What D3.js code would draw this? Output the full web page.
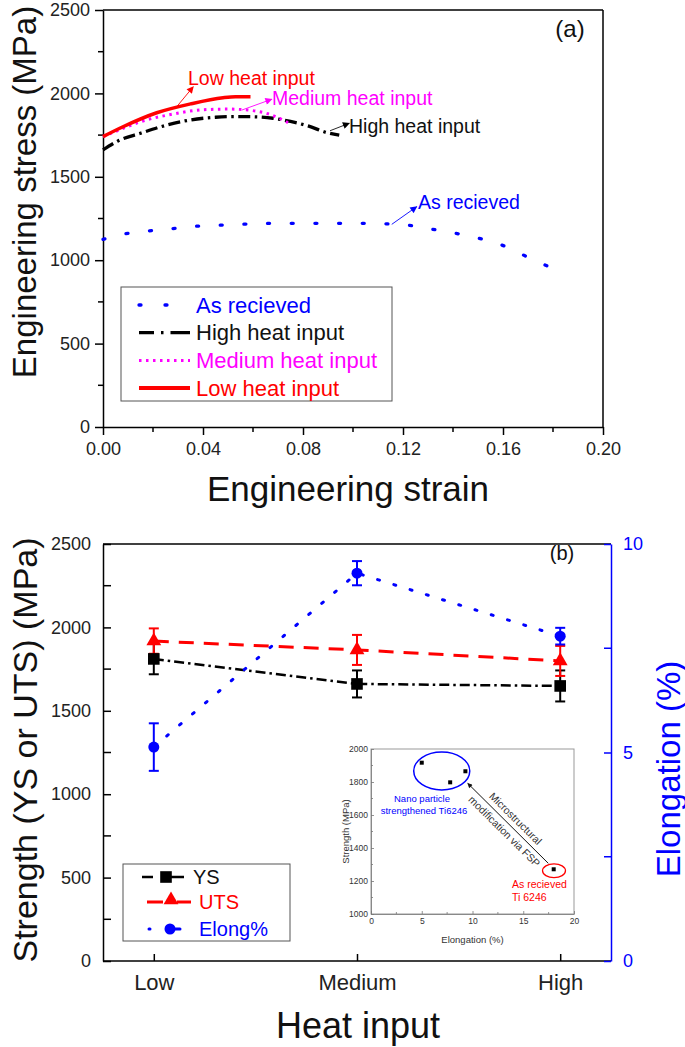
<!DOCTYPE html>
<html><head><meta charset="utf-8">
<script src="https://cdn.jsdelivr.net/npm/d3@7"></script>
<style>
html,body{margin:0;padding:0;background:#fff;}
svg{display:block;font-family:"Liberation Sans",Arial,Helvetica,sans-serif;}
</style></head><body>
<svg id="chart" width="685" height="1047"></svg>
<script>
// ===== Panel (a) data: engineering stress-strain curves =====
const strainAsReceived = [0, 0.0099, 0.0195, 0.029, 0.0384, 0.0481, 0.0577, 0.0672, 0.0768, 0.0864, 0.0959, 0.1055, 0.1148, 0.1244, 0.1335, 0.1425, 0.1521, 0.1605, 0.1684, 0.1777];
const stressAsReceived = [1125, 1161, 1177, 1191, 1205, 1211, 1217, 1221, 1221, 1221, 1221, 1221, 1217, 1205, 1181, 1157, 1125, 1085, 1029, 965];
const strainHigh = [0, 0.006, 0.015, 0.025, 0.035, 0.045, 0.052, 0.06, 0.068, 0.075, 0.082, 0.09, 0.0945];
const stressHigh = [1661, 1715, 1761, 1808, 1841, 1857, 1861, 1860, 1851, 1832, 1805, 1763, 1750];
const strainMedium = [0, 0.008, 0.015, 0.028, 0.04, 0.05, 0.058, 0.066, 0.074];
const stressMedium = [1741, 1790, 1830, 1876, 1902, 1906, 1900, 1878, 1825];
const strainLow = [0, 0.008, 0.0215, 0.035, 0.048, 0.053, 0.059];
const stressLow = [1741, 1800, 1884, 1937, 1974, 1980, 1980];
const strainTicks = [0, 0.04, 0.08, 0.12, 0.16, 0.20];
const stressTicks = [0, 500, 1000, 1500, 2000, 2500];
const legendA = ["As recieved", "High heat input", "Medium heat input", "Low heat input"];

// ===== Panel (b) data =====
const heatInput = ["Low", "Medium", "High"];
const ysValues = [1811, 1661, 1649];
const ysErrors = [92, 81, 93];
const utsValues = [1918, 1865, 1799];
const utsErrors = [76, 90, 90];
const elongValues = [5.13, 9.30, 7.79];
const elongErrors = [0.57, 0.29, 0.20];
const strengthTicks = [0, 500, 1000, 1500, 2000, 2500];
const elongTicks = [0, 5, 10];
const legendB = ["YS", "UTS", "Elong%"];

// ===== Inset data =====
const insetElong = [5.0, 7.8, 9.3, 18.0];
const insetStrength = [1917, 1798, 1865, 1271];
const insetXTicks = [0, 5, 10, 15, 20];
const insetYTicks = [1000, 1200, 1400, 1600, 1800, 2000];

const svg = d3.select("#chart");
const FONT = '"Liberation Sans",Arial,Helvetica,sans-serif';
const BLUE = "#0000ff", RED = "#ff0000", MAG = "#ff00ff", BLACK = "#000";

// arrow markers
const defs = svg.append("defs");
function marker(id, color, w, h) {
  defs.append("marker").attr("id", id).attr("viewBox", "0 0 10 10")
    .attr("refX", 9).attr("refY", 5).attr("markerUnits", "userSpaceOnUse")
    .attr("markerWidth", w).attr("markerHeight", h).attr("orient", "auto")
    .append("path").attr("d", "M0,0 L10,5 L0,10 z").attr("fill", color);
}
marker("arR", RED, 9, 7); marker("arM", MAG, 9, 7); marker("arK", BLACK, 9, 7); marker("arB", BLUE, 9, 7);
marker("arI", "#111", 7, 5);

// ===================== PANEL (a) =====================
const xA = d3.scaleLinear().domain([0, 0.2]).range([103, 603]);
const yA = d3.scaleLinear().domain([0, 2500]).range([427, 10]);
const gA = svg.append("g");

gA.append("line").attr("x1", xA(0)).attr("x2", xA(0.2)).attr("y1", yA(2500)).attr("y2", yA(2500)).attr("stroke", "#000").attr("stroke-width", 1.5);
gA.append("line").attr("x1", xA(0.2)).attr("x2", xA(0.2)).attr("y1", yA(0)).attr("y2", yA(2500)).attr("stroke", "#000").attr("stroke-width", 1.5);

const axA_y = gA.append("g").attr("transform", `translate(${xA(0)},0)`)
  .call(d3.axisLeft(yA).tickValues(stressTicks).tickSize(8).tickSizeOuter(0).tickPadding(5).tickFormat(d3.format("d")));
const axA_x = gA.append("g").attr("transform", `translate(0,${yA(0)})`)
  .call(d3.axisBottom(xA).tickValues(strainTicks).tickSize(8).tickSizeOuter(0).tickPadding(7).tickFormat(d3.format(".2f")));
[axA_y, axA_x].forEach(a => {
  a.selectAll("path,line").attr("stroke", "#000").attr("stroke-width", 1.5);
  a.selectAll("text").attr("font-size", 18).attr("font-family", FONT).attr("fill", "#222");
});
gA.selectAll(".minyA").data([250, 750, 1250, 1750, 2250]).enter().append("line")
  .attr("x1", xA(0) - 5).attr("x2", xA(0)).attr("y1", d => yA(d)).attr("y2", d => yA(d)).attr("stroke", "#000").attr("stroke-width", 1.5);
gA.selectAll(".minxA").data([0.02, 0.06, 0.10, 0.14, 0.18]).enter().append("line")
  .attr("x1", d => xA(d)).attr("x2", d => xA(d)).attr("y1", yA(0)).attr("y2", yA(0) + 5).attr("stroke", "#000").attr("stroke-width", 1.5);

gA.append("text").attr("transform", `translate(24,192) rotate(-90)`).attr("text-anchor", "middle")
  .attr("dominant-baseline", "central").attr("font-size", 33).attr("fill", "#111").text("Engineering stress (MPa)");
gA.append("text").attr("x", 348).attr("y", 501).attr("text-anchor", "middle")
  .attr("font-size", 35).attr("fill", "#111").text("Engineering strain");
gA.append("text").attr("x", 570).attr("y", 37).attr("text-anchor", "middle")
  .attr("font-size", 24).attr("fill", "#111").text("(a)");

// curves
const lineA = (xs, ys) => d3.line().curve(d3.curveMonotoneX).x(i => xA(xs[i])).y(i => yA(ys[i]))(d3.range(xs.length));
const arPath = gA.append("path").attr("d", lineA(strainAsReceived, stressAsReceived)).attr("fill", "none")
  .attr("stroke", BLUE).attr("stroke-width", 3.3).attr("stroke-linecap", "round");
{
  const L = arPath.node().getTotalLength();
  const period = (L - 2.5) / (strainAsReceived.length - 1);
  arPath.attr("stroke-dasharray", `2,${period - 2}`);
}
gA.append("path").attr("d", lineA(strainHigh, stressHigh)).attr("fill", "none")
  .attr("stroke", BLACK).attr("stroke-width", 3.3).attr("stroke-dasharray", "12,4.5,2.5,4.5");
gA.append("path").attr("d", lineA(strainMedium, stressMedium)).attr("fill", "none")
  .attr("stroke", MAG).attr("stroke-width", 3).attr("stroke-dasharray", "2.5,4.5");
gA.append("path").attr("d", lineA(strainLow, stressLow)).attr("fill", "none")
  .attr("stroke", RED).attr("stroke-width", 3.5);

const annA = [
  {t: "Low heat input", c: RED, m: "arR", tx: 0.034, ty: 2050, a0: [0.0297, 1924], a1: [0.0361, 2040]},
  {t: "Medium heat input", c: MAG, m: "arM", tx: 0.0676, ty: 1930, a0: [0.0555, 1900], a1: [0.0675, 1965]},
  {t: "High heat input", c: "#111", m: "arK", tx: 0.0984, ty: 1763, a0: [0.0908, 1776], a1: [0.0985, 1821]},
  {t: "As recieved", c: BLUE, m: "arB", tx: 0.126, ty: 1307, a0: [0.1155, 1215], a1: [0.1255, 1321]}
];
annA.forEach(a => {
  gA.append("line").attr("x1", xA(a.a0[0])).attr("y1", yA(a.a0[1])).attr("x2", xA(a.a1[0])).attr("y2", yA(a.a1[1]))
    .attr("stroke", a.c).attr("stroke-width", 0.9).attr("marker-end", `url(#${a.m})`);
  gA.append("text").attr("x", xA(a.tx)).attr("y", yA(a.ty)).attr("font-size", 19.5).attr("fill", a.c).text(a.t);
});

// legend (a)
const legA = gA.append("g");
legA.append("rect").attr("x", 121).attr("y", 287).attr("width", 271).attr("height", 114)
  .attr("fill", "#fff").attr("stroke", "#555").attr("stroke-width", 1);
const legAStyles = [
  {c: BLUE, w: 3.3, dash: "2,24", cap: "round"},
  {c: BLACK, w: 3.3, dash: "15,7,2.5,7,20", cap: "butt"},
  {c: MAG, w: 3, dash: "2.5,4.5", cap: "butt"},
  {c: RED, w: 4, dash: null, cap: "butt"}
];
legendA.forEach((name, i) => {
  const cy = 305 + i * 27.7;
  const s = legAStyles[i];
  const ln = legA.append("line").attr("x1", 139).attr("x2", 190).attr("y1", cy).attr("y2", cy)
    .attr("stroke", s.c).attr("stroke-width", s.w).attr("stroke-linecap", s.cap);
  if (s.dash) ln.attr("stroke-dasharray", s.dash);
  legA.append("text").attr("x", 196).attr("y", cy).attr("dominant-baseline", "central")
    .attr("font-size", 22).attr("fill", s.c === BLACK ? "#111" : s.c).text(name);
});

// ===================== PANEL (b) =====================
const xB = d3.scalePoint().domain(heatInput).range([103, 611]).padding(0.25);
const yB = d3.scaleLinear().domain([0, 2500]).range([961, 544]);
const yB2 = d3.scaleLinear().domain([0, 10]).range([961, 544]);
const gB = svg.append("g");

gB.append("line").attr("x1", 103).attr("x2", 611).attr("y1", yB(2500)).attr("y2", yB(2500)).attr("stroke", "#000").attr("stroke-width", 1.5);

const axB_y = gB.append("g").attr("transform", `translate(103,0)`)
  .call(d3.axisLeft(yB).tickValues(strengthTicks).tickSize(-8).tickSizeOuter(0).tickPadding(12).tickFormat(d3.format("d")));
const axB_x = gB.append("g").attr("transform", `translate(0,${yB(0)})`)
  .call(d3.axisBottom(xB).tickSize(-7).tickSizeOuter(0).tickPadding(13));
axB_x.select(".domain").attr("d", `M103,0H611`);
const axB_r = gB.append("g").attr("transform", `translate(611,0)`)
  .call(d3.axisRight(yB2).tickValues(elongTicks).tickSize(-7).tickSizeOuter(0).tickPadding(12).tickFormat(d3.format("d")));
[axB_y, axB_x].forEach(a => {
  a.selectAll("path,line").attr("stroke", "#000").attr("stroke-width", 1.5);
  a.selectAll("text").attr("font-family", FONT).attr("fill", "#222");
});
axB_y.selectAll("text").attr("font-size", 18);
axB_x.selectAll("text").attr("font-size", 22);
axB_r.selectAll("path,line").attr("stroke", BLUE).attr("stroke-width", 1.5);
axB_r.selectAll("text").attr("font-size", 18).attr("font-family", FONT).attr("fill", BLUE);
gB.selectAll(".minyB").data([250, 750, 1250, 1750, 2250]).enter().append("line")
  .attr("x1", 103).attr("x2", 111).attr("y1", d => yB(d)).attr("y2", d => yB(d)).attr("stroke", "#000").attr("stroke-width", 1.5);
gB.selectAll(".minyB2").data([2.5, 7.5]).enter().append("line")
  .attr("x1", 604).attr("x2", 611).attr("y1", d => yB2(d)).attr("y2", d => yB2(d)).attr("stroke", BLUE).attr("stroke-width", 1.5);

gB.append("text").attr("transform", `translate(25,750) rotate(-90)`).attr("text-anchor", "middle")
  .attr("dominant-baseline", "central").attr("font-size", 34).attr("fill", "#111").text("Strength (YS or UTS) (MPa)");
gB.append("text").attr("transform", `translate(668,769) rotate(-90)`).attr("text-anchor", "middle")
  .attr("dominant-baseline", "central").attr("font-size", 33).attr("fill", BLUE).text("Elongation (%)");
gB.append("text").attr("x", 358).attr("y", 1038).attr("text-anchor", "middle")
  .attr("font-size", 36).attr("fill", "#111").text("Heat input");
gB.append("text").attr("x", 562).attr("y", 560).attr("text-anchor", "middle")
  .attr("font-size", 20).attr("fill", "#111").text("(b)");

// series lines
const lineB = (vals, sc) => d3.line().x((d, i) => xB(heatInput[i])).y(d => sc(d))(vals);
gB.append("path").attr("d", lineB(ysValues, yB)).attr("fill", "none").attr("stroke", BLACK)
  .attr("stroke-width", 2.5).attr("stroke-dasharray", "10,4,2.5,4");
gB.append("path").attr("d", lineB(utsValues, yB)).attr("fill", "none").attr("stroke", RED)
  .attr("stroke-width", 3).attr("stroke-dasharray", "15,10");
gB.append("path").attr("d", lineB(elongValues, yB2)).attr("fill", "none").attr("stroke", BLUE)
  .attr("stroke-width", 3).attr("stroke-linecap", "round").attr("stroke-dasharray", "2,15");

function errBars(vals, errs, sc, color) {
  vals.forEach((v, i) => {
    const x = xB(heatInput[i]);
    const y0 = sc(v - errs[i]), y1 = sc(v + errs[i]);
    gB.append("line").attr("x1", x).attr("x2", x).attr("y1", y0).attr("y2", y1).attr("stroke", color).attr("stroke-width", 2);
    [y0, y1].forEach(y => gB.append("line").attr("x1", x - 5).attr("x2", x + 5).attr("y1", y).attr("y2", y).attr("stroke", color).attr("stroke-width", 2));
  });
}
errBars(ysValues, ysErrors, yB, BLACK);
errBars(utsValues, utsErrors, yB, RED);
errBars(elongValues, elongErrors, yB2, BLUE);

const sq = d3.symbol().type(d3.symbolSquare).size(135);
const tri = d3.symbol().type(d3.symbolTriangle).size(95);
gB.selectAll(".ys").data(ysValues).enter().append("path").attr("d", sq)
  .attr("transform", (d, i) => `translate(${xB(heatInput[i])},${yB(d)})`).attr("fill", BLACK);
gB.selectAll(".uts").data(utsValues).enter().append("path").attr("d", tri)
  .attr("transform", (d, i) => `translate(${xB(heatInput[i])},${yB(d)})`).attr("fill", RED);
gB.selectAll(".el").data(elongValues).enter().append("circle").attr("r", 5.5)
  .attr("cx", (d, i) => xB(heatInput[i])).attr("cy", d => yB2(d)).attr("fill", BLUE);

// legend (b)
const legB = gB.append("g");
legB.append("rect").attr("x", 123).attr("y", 864).attr("width", 167).attr("height", 77)
  .attr("fill", "#fff").attr("stroke", "#555").attr("stroke-width", 1);
legB.append("line").attr("x1", 142).attr("x2", 184).attr("y1", 877).attr("y2", 877).attr("stroke", BLACK).attr("stroke-width", 2.5).attr("stroke-dasharray", "11,7,0,6,20");
legB.append("path").attr("d", sq).attr("transform", "translate(166,877)").attr("fill", BLACK);
legB.append("text").attr("x", 193).attr("y", 877).attr("dominant-baseline", "central").attr("font-size", 20).attr("fill", "#111").text(legendB[0]);
legB.append("line").attr("x1", 147).attr("x2", 191).attr("y1", 902).attr("y2", 902).attr("stroke", RED).attr("stroke-width", 3).attr("stroke-dasharray", "16,14,14");
legB.append("path").attr("d", tri).attr("transform", "translate(171,900)").attr("fill", RED);
legB.append("text").attr("x", 199).attr("y", 902).attr("dominant-baseline", "central").attr("font-size", 20).attr("fill", RED).text(legendB[1]);
legB.append("line").attr("x1", 149).attr("x2", 150).attr("y1", 929).attr("y2", 929).attr("stroke", BLUE).attr("stroke-width", 3).attr("stroke-linecap", "round");
legB.append("line").attr("x1", 170).attr("x2", 180).attr("y1", 929).attr("y2", 929).attr("stroke", BLUE).attr("stroke-width", 3).attr("stroke-linecap", "round");
legB.append("circle").attr("cx", 170).attr("cy", 929).attr("r", 5.5).attr("fill", BLUE);
legB.append("text").attr("x", 199).attr("y", 929).attr("dominant-baseline", "central").attr("font-size", 20).attr("fill", BLUE).text(legendB[2]);

// ===================== INSET =====================
const xI = d3.scaleLinear().domain([0, 20]).range([371, 574]);
const yI = d3.scaleLinear().domain([1000, 2000]).range([914, 749]);
const gI = svg.append("g");
gI.append("rect").attr("x", xI(0)).attr("y", yI(2000)).attr("width", xI(20) - xI(0)).attr("height", yI(1000) - yI(2000))
  .attr("fill", "#fff").attr("stroke", "#999").attr("stroke-width", 1);
const axI_y = gI.append("g").attr("transform", `translate(${xI(0)},0)`)
  .call(d3.axisLeft(yI).tickValues(insetYTicks).tickSize(-3).tickSizeOuter(0).tickPadding(3).tickFormat(d3.format("d")));
const axI_x = gI.append("g").attr("transform", `translate(0,${yI(1000)})`)
  .call(d3.axisBottom(xI).tickValues(insetXTicks).tickSize(-3).tickSizeOuter(0).tickPadding(4).tickFormat(d3.format("d")));
[axI_y, axI_x].forEach(a => {
  a.selectAll("path,line").attr("stroke", "#777").attr("stroke-width", 0.8);
  a.selectAll("text").attr("font-size", 8.5).attr("font-family", FONT).attr("fill", "#333");
});
gI.selectAll(".minI").data([1100, 1300, 1500, 1700, 1900]).enter().append("line")
  .attr("x1", xI(0)).attr("x2", xI(0) + 2).attr("y1", d => yI(d)).attr("y2", d => yI(d)).attr("stroke", "#777").attr("stroke-width", 0.8);
gI.selectAll(".minIx").data([2.5, 7.5, 12.5, 17.5]).enter().append("line")
  .attr("x1", d => xI(d)).attr("x2", d => xI(d)).attr("y1", yI(1000)).attr("y2", yI(1000) - 2).attr("stroke", "#777").attr("stroke-width", 0.8);
gI.append("text").attr("x", (xI(0) + xI(20)) / 2).attr("y", 943).attr("text-anchor", "middle").attr("font-size", 9.5).attr("fill", "#333").text("Elongation (%)");
gI.append("text").attr("transform", `translate(345,${(yI(1000) + yI(2000)) / 2}) rotate(-90)`).attr("text-anchor", "middle")
  .attr("dominant-baseline", "central").attr("font-size", 9.5).attr("fill", "#333").text("Strength (MPa)");

gI.append("ellipse").attr("cx", xI(6.97)).attr("cy", yI(1867)).attr("rx", xI(2.76) - xI(0)).attr("ry", yI(1000) - yI(1115))
  .attr("fill", "none").attr("stroke", BLUE).attr("stroke-width", 1.5);
gI.append("ellipse").attr("cx", xI(18.03)).attr("cy", yI(1262)).attr("rx", xI(1.13) - xI(0)).attr("ry", yI(1000) - yI(1042))
  .attr("fill", "none").attr("stroke", RED).attr("stroke-width", 1.3);
gI.selectAll(".ip").data(insetElong).enter().append("rect")
  .attr("x", (d) => xI(d) - 2).attr("y", (d, i) => yI(insetStrength[i]) - 2).attr("width", 4).attr("height", 4).attr("fill", "#000");
const ax0 = [xI(17.47), yI(1307)], ax1 = [xI(9.53), yI(1792)];
gI.append("line").attr("x1", ax0[0]).attr("y1", ax0[1]).attr("x2", ax1[0]).attr("y2", ax1[1])
  .attr("stroke", "#111").attr("stroke-width", 1).attr("marker-end", "url(#arI)");
const ang = Math.atan2(ax0[1] - ax1[1], ax0[0] - ax1[0]) * 180 / Math.PI;
const mid = [(ax0[0] + ax1[0]) / 2, (ax0[1] + ax1[1]) / 2];
const gRot = gI.append("g").attr("transform", `translate(${mid[0]},${mid[1]}) rotate(${ang})`);
gRot.append("text").attr("x", 2).attr("y", -9).attr("text-anchor", "middle").attr("dominant-baseline", "central")
  .attr("font-size", 10.5).attr("fill", "#333").text("Microstructural");
gRot.append("text").attr("x", 3).attr("y", 8).attr("text-anchor", "middle").attr("dominant-baseline", "central")
  .attr("font-size", 10.5).attr("fill", "#333").text("modification via FSP");
gI.append("text").attr("x", 422).attr("y", 802).attr("text-anchor", "middle").attr("font-size", 9.5).attr("fill", BLUE).text("Nano particle");
gI.append("text").attr("x", 424).attr("y", 813.5).attr("text-anchor", "middle").attr("font-size", 9.5).attr("fill", BLUE).text("strengthened Ti6246");
gI.append("text").attr("x", 512).attr("y", 887.5).attr("font-size", 10.5).attr("fill", RED).text("As recieved");
gI.append("text").attr("x", 512).attr("y", 901).attr("font-size", 10.5).attr("fill", RED).text("Ti 6246");
</script>
</body></html>
